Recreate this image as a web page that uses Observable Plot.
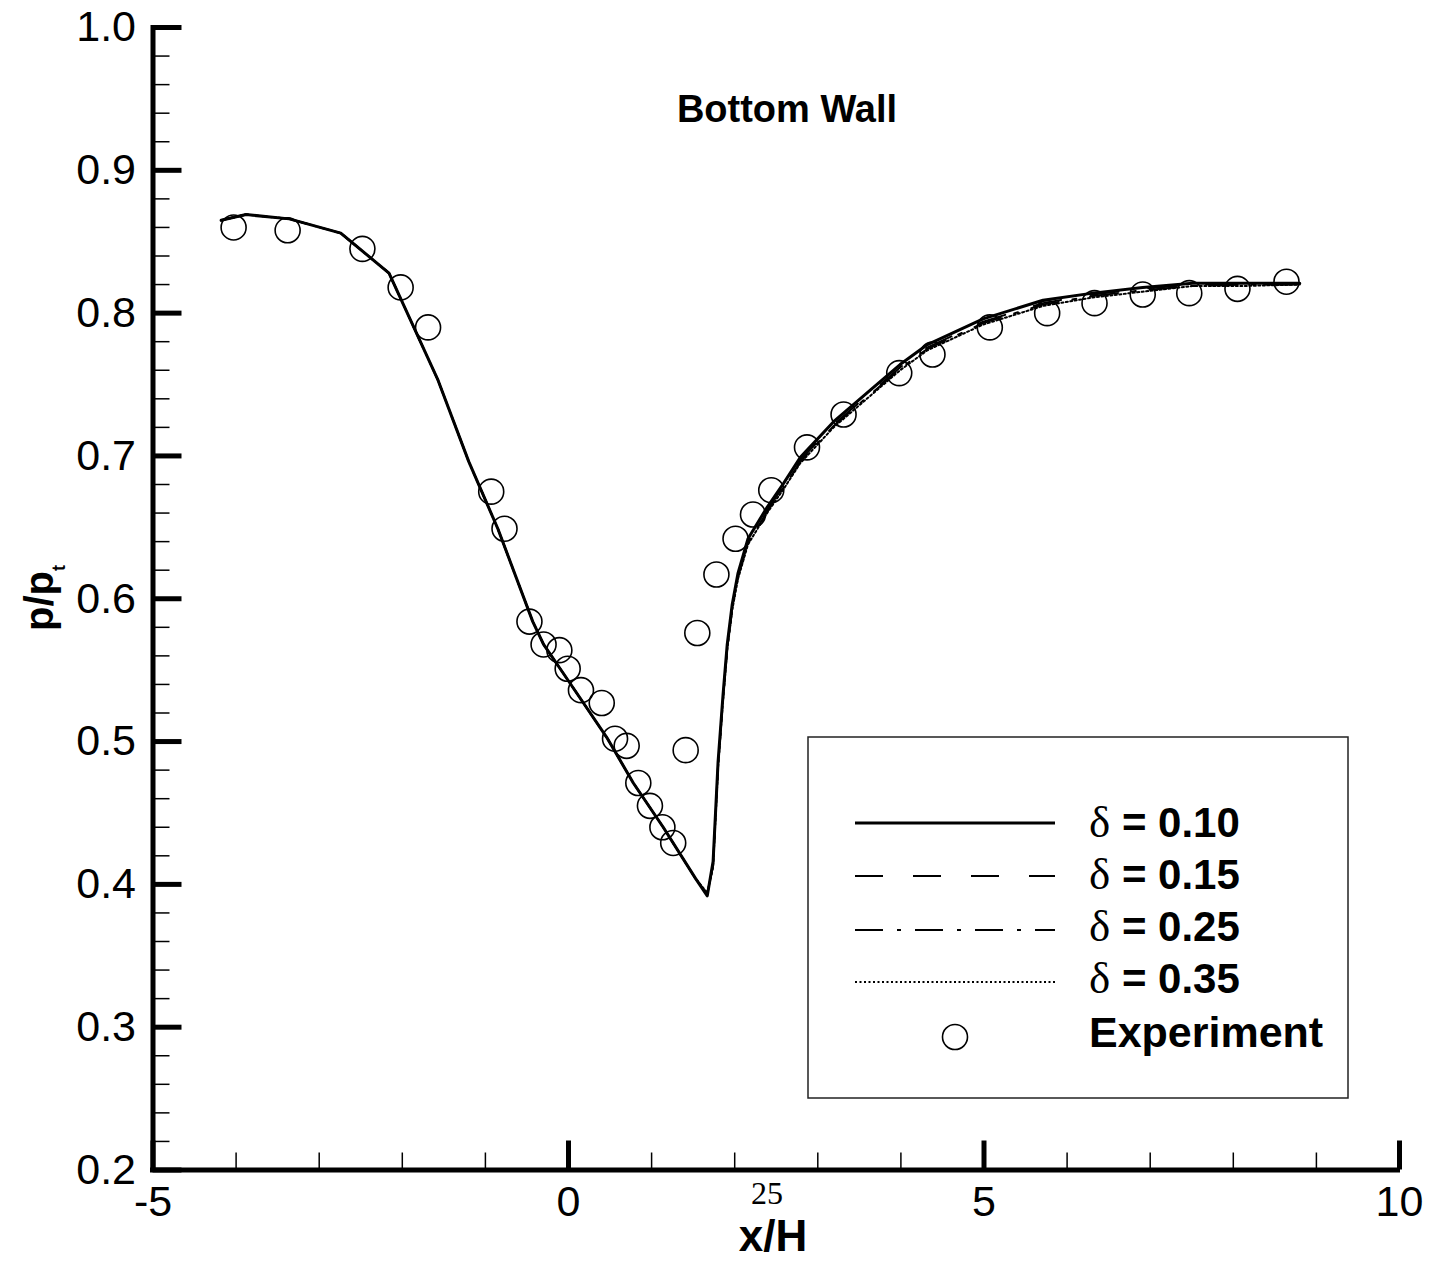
<!DOCTYPE html>
<html><head><meta charset="utf-8">
<script src="https://cdn.jsdelivr.net/npm/d3@7"></script>
<script src="https://cdn.jsdelivr.net/npm/@observablehq/plot@0.6"></script>
<style>body{margin:0;background:#fff}</style>
</head><body><div id="chart"></div>
<script>
// ---- tick values ----
const xTicksMajor = [-5, 0, 5, 10];
const xTicksMinor = [-4, -3, -2, -1, 1, 2, 3, 4, 6, 7, 8, 9];
const yTicksMajor = [0.2, 0.3, 0.4, 0.5, 0.6, 0.7, 0.8, 0.9, 1.0];
const yTicksMinor = [0.22,0.24,0.26,0.28,0.32,0.34,0.36,0.38,0.42,0.44,0.46,0.48,0.52,0.54,0.56,0.58,
                     0.62,0.64,0.66,0.68,0.72,0.74,0.76,0.78,0.82,0.84,0.86,0.88,0.92,0.94,0.96,0.98];

// ---- simulation curves (shared x/H stations) ----
const simX = [-4.18,-3.88,-3.36,-2.74,-2.16,-1.57,-1.20,-0.85,-0.43,-0.30,-0.10,0.18,0.47,0.78,1.14,1.53,1.67,1.74,1.80,1.86,
              1.91,1.97,2.04,2.16,2.39,2.59,2.79,3.19,3.67,3.99,4.32,4.99,5.71,6.31,6.91,7.51,8.11,8.80];
const d010 = [0.865,0.869,0.866,0.856,0.828,0.753,0.696,0.649,0.584,0.568,0.551,0.527,0.502,0.471,0.440,0.404,0.392,0.416,0.486,0.533,
              0.568,0.596,0.618,0.642,0.664,0.681,0.699,0.724,0.748,0.764,0.778,0.796,0.809,0.814,0.818,0.821,0.821,0.821];
const d015 = [0.865,0.869,0.866,0.856,0.828,0.753,0.696,0.649,0.584,0.568,0.551,0.527,0.502,0.471,0.440,0.404,0.393,0.414,0.484,0.531,
              0.566,0.594,0.616,0.640,0.662,0.679,0.697,0.722,0.746,0.762,0.776,0.794,0.807,0.813,0.817,0.820,0.820,0.820];
const d025 = [0.865,0.869,0.866,0.856,0.828,0.753,0.696,0.649,0.584,0.568,0.551,0.527,0.502,0.471,0.440,0.404,0.393,0.413,0.483,0.530,
              0.565,0.593,0.615,0.639,0.661,0.678,0.696,0.721,0.745,0.761,0.775,0.793,0.806,0.812,0.816,0.819,0.820,0.820];
const d035 = [0.865,0.869,0.866,0.856,0.828,0.753,0.696,0.649,0.584,0.568,0.551,0.527,0.502,0.471,0.440,0.404,0.394,0.412,0.482,0.529,
              0.564,0.592,0.614,0.638,0.660,0.677,0.695,0.720,0.744,0.760,0.774,0.792,0.805,0.811,0.815,0.819,0.819,0.820];

// ---- experiment ----
const expX = [-4.03,-3.38,-2.48,-2.02,-1.69,-0.93,-0.77,-0.47,-0.30,-0.11,-0.01,0.15,0.40,0.56,0.70,0.84,0.98,1.13,1.26,1.41,
              1.55,1.78,2.01,2.22,2.44,2.87,3.31,3.98,4.38,5.07,5.76,6.33,6.91,7.47,8.05,8.64];
const expY = [0.860,0.858,0.845,0.818,0.790,0.675,0.649,0.584,0.568,0.564,0.551,0.536,0.527,0.502,0.497,0.471,0.455,0.440,0.429,0.494,
              0.576,0.617,0.642,0.659,0.676,0.706,0.729,0.758,0.771,0.790,0.800,0.807,0.813,0.814,0.817,0.822];

const seriesNames = ["δ = 0.10", "δ = 0.15", "δ = 0.25", "δ = 0.35"];

const W = 1431, H = 1261, mL = 152.5, mR = 32, mT = 27, mB = 91.5;
const fw = W - mL - mR, fh = H - mT - mB;
const sans = "'Liberation Sans', Arial, Helvetica, sans-serif";
const serif = "'Liberation Serif', 'Times New Roman', serif";

const toRows = ys => simX.map((x, i) => ({x, y: ys[i]}));
const expRows = expX.map((x, i) => ({x, y: expY[i]}));

const plot = Plot.plot({
  width: W, height: H,
  marginLeft: mL, marginRight: mR, marginTop: mT, marginBottom: mB,
  x: {domain: [-5, 10]},
  y: {domain: [0.2, 1.0]},
  style: {fontFamily: sans, background: "white", color: "black"},
  marks: [
    Plot.ruleX(xTicksMinor, {x: d => d, insetTop: fh - 17, strokeWidth: 1.5}),
    Plot.ruleX(xTicksMajor, {x: d => d, insetTop: fh - 29, strokeWidth: 5}),
    Plot.ruleY(yTicksMinor, {y: d => d, insetRight: fw - 17, strokeWidth: 1.5}),
    Plot.ruleY(yTicksMajor, {y: d => d, insetRight: fw - 29, strokeWidth: 5}),
    Plot.ruleX([-5], {x: d => d, strokeWidth: 5, insetBottom: -2.5, insetTop: -2}),
    Plot.ruleY([0.2], {y: d => d, strokeWidth: 5, insetLeft: -2.5, insetRight: -1}),
    Plot.axisX({ticks: xTicksMajor, tickSize: 0, tickPadding: 15, fontSize: 43, tickFormat: d => String(d), label: null}),
    Plot.axisY({ticks: yTicksMajor, tickSize: 0, tickPadding: 17, fontSize: 43, tickFormat: d => d.toFixed(1), label: null}),
    Plot.line(toRows(d035), {x: "x", y: "y", stroke: "black", strokeWidth: 2, strokeDasharray: "2,2.5"}),
    Plot.line(toRows(d025), {x: "x", y: "y", stroke: "black", strokeWidth: 2, strokeDasharray: "28,14,4,14"}),
    Plot.line(toRows(d015), {x: "x", y: "y", stroke: "black", strokeWidth: 2, strokeDasharray: "28,30"}),
    Plot.line(toRows(d010), {x: "x", y: "y", stroke: "black", strokeWidth: 3}),
    Plot.dot(expRows, {x: "x", y: "y", r: 12.5, stroke: "black", fill: "none", strokeWidth: 1.6})
  ]
});

document.getElementById("chart").appendChild(plot);
const svg = d3.select(plot);

// title inside plot
svg.append("text").attr("x", 787).attr("y", 122).attr("text-anchor", "middle")
  .attr("font-family", sans).attr("font-weight", "bold").attr("font-size", 38).attr("fill", "black")
  .text("Bottom Wall");

// axis titles
const yt = svg.append("text").attr("transform", "translate(53,598) rotate(-90)").attr("text-anchor", "middle")
  .attr("font-family", sans).attr("font-weight", "bold").attr("font-size", 40).attr("fill", "black");
yt.append("tspan").text("p/p");
yt.append("tspan").attr("font-size", 18).attr("dy", 12).text("t");

svg.append("text").attr("x", 773).attr("y", 1251).attr("text-anchor", "middle")
  .attr("font-family", sans).attr("font-weight", "bold").attr("font-size", 44).attr("fill", "black")
  .text("x/H");

svg.append("text").attr("x", 767).attr("y", 1204).attr("text-anchor", "middle")
  .attr("font-family", serif).attr("font-size", 32).attr("fill", "black")
  .text("25");

// legend
const lg = svg.append("g").attr("text-anchor", "start");
lg.append("rect").attr("x", 808).attr("y", 737).attr("width", 540).attr("height", 361)
  .attr("fill", "white").attr("stroke", "#222").attr("stroke-width", 1.5);
const dashes = [null, "28,30", "28,14,4,14", "2,2.5"];
const widths = [3, 2, 2, 2];
const lineY = [823, 876, 930, 982];
const textY = [837, 889, 941, 993];
seriesNames.forEach((name, i) => {
  const l = lg.append("line").attr("x1", 855).attr("x2", 1055).attr("y1", lineY[i]).attr("y2", lineY[i])
    .attr("stroke", "black").attr("stroke-width", widths[i]);
  if (dashes[i]) l.attr("stroke-dasharray", dashes[i]);
  const t = lg.append("text").attr("x", 1089).attr("y", textY[i]).attr("fill", "black")
    .attr("font-size", 42).attr("text-anchor", "start");
  t.append("tspan").attr("font-family", serif).attr("font-size", 45).text(name.slice(0, 1));
  t.append("tspan").attr("font-family", sans).attr("font-weight", "bold").text(name.slice(1));
});
lg.append("circle").attr("cx", 955).attr("cy", 1037).attr("r", 12.5)
  .attr("fill", "none").attr("stroke", "black").attr("stroke-width", 1.6);
lg.append("text").attr("x", 1089).attr("y", 1047).attr("fill", "black").attr("text-anchor", "start")
  .attr("font-family", sans).attr("font-weight", "bold").attr("font-size", 43).text("Experiment");
</script>
</body></html>
